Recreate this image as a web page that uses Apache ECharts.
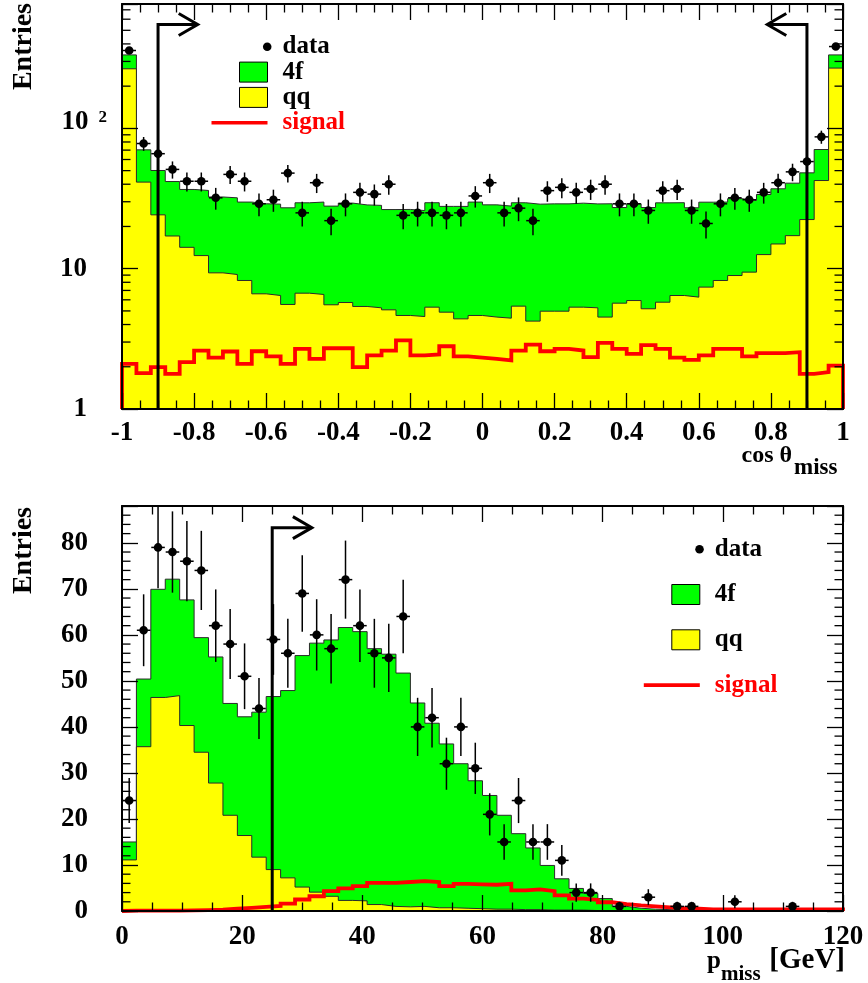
<!DOCTYPE html>
<html><head><meta charset="utf-8">
<script src="https://cdn.jsdelivr.net/npm/echarts@6/dist/echarts.min.js"></script>
<style>html,body{margin:0;padding:0;background:#fff}#c{width:868px;height:983px}</style>
</head><body><div id="c"></div>
<script>
// ===================== DATA =====================
// Top panel: cos(theta_miss), 50 bins from -1 to 1
const cosBinLow = -1;
const cosBinWidth = 0.04;
const cosQQ = [266, 41.4, 24.2, 17.1, 14.2, 12.4, 9.34, 9.09, 8.24, 6.62,
  6.44, 5.56, 6.69, 6.55, 5.53, 5.74, 5.38, 5.26, 5.09, 4.64,
  4.56, 5.32, 4.90, 4.39, 4.64, 4.52, 4.44, 5.41, 4.23, 4.98,
  4.98, 5.32, 5.26, 4.52, 5.68, 5.93, 5.18, 5.77, 6.44, 6.27,
  7.39, 8.24, 8.94, 9.45, 12.6, 15.0, 17.2, 22.4, 42.5, 269];
const cos4f = [68, 28.9, 25.9, 24.7, 22.5, 23.7, 23.1, 22.9, 21.6, 22.4,
  22.4, 21.6, 22.8, 23.3, 22.4, 23.6, 23.1, 23.0, 21.3, 21.8,
  21.4, 24.2, 22.9, 23.4, 25.2, 24.0, 23.5, 24.1, 24.6, 24.0,
  24.0, 24.0, 23.7, 24.5, 21.6, 23.1, 22.1, 23.7, 23.1, 20.9,
  22.4, 21.6, 22.6, 21.2, 21.2, 22.1, 23.5, 25.8, 28.2, 65];
const cosSignal = [2.10, 1.80, 1.99, 1.78, 2.16, 2.61, 2.32, 2.57, 2.10, 2.58,
  2.37, 2.10, 2.68, 2.28, 2.71, 2.71, 1.99, 2.41, 2.61, 3.08,
  2.41, 2.45, 2.80, 2.37, 2.32, 2.28, 2.22, 2.61, 2.88, 2.58,
  2.68, 2.61, 2.34, 2.96, 2.68, 2.47, 2.85, 2.68, 2.32, 2.24,
  2.41, 2.68, 2.68, 2.37, 2.50, 2.50, 2.54, 1.78, 1.83, 2.04];
const cosData = [359, 78, 66, 51, 42, 42, 32, 47, 42, 29,
  31, 48, 25, 41, 22, 29, 35, 34, 40, 24,
  25, 25, 24, 25, 33, 41, 25, 27, 22, 36,
  38, 35, 37, 40, 29, 29, 26, 36, 37, 26,
  21, 29, 32, 31, 35, 41, 49, 58, 87, 383];
const cosCuts = [-0.9, 0.9];
const cosArrowEnds = [-0.79, 0.79];
const cosArrowTop = 550;
const cosAxis = {min: -1, max: 1, step: 0.2, ymin: 1, ymax: 770};
const cosLogMinorTicks = [2,3,4,5,6,7,8,9,20,30,40,50,60,70,80,90,200,300,400,500,600,700];

// Bottom panel: p_miss [GeV], 50 bins of 2.4 GeV from 0 to 120
const pBinLow = 0;
const pBinWidth = 2.4;
const pQQ = [11.1, 35.7, 46.4, 46.8, 40.3, 34.5, 27.8, 20.8, 16.4, 11.7,
  9.0, 7.2, 5.2, 4.1, 3.2, 2.3, 2.2, 1.4, 1.0, 0.9,
  1.0, 0.7, 0.7, 0.6, 0.5, 0.4, 0.4, 0.3, 0.3, 0.2,
  0.2, 0.2, 0.1, 0.1, 0.1, 0.1, 0, 0, 0, 0,
  0, 0, 0, 0, 0, 0, 0, 0, 0, 0];
const p4f = [3.9, 14.7, 23.5, 25.3, 27.3, 24.9, 27.4, 24.3, 25.8, 31.5,
  37.6, 40.7, 50.3, 54.1, 55.7, 59.3, 58.5, 55.6, 54.8, 50.8,
  44.2, 40.1, 35.6, 31.4, 27.8, 24.7, 20.4, 16.5, 13.4, 9.7,
  6.8, 4.7, 3.7, 2.6, 0.9, 0.5, 0.4, 0.3, 0.2, 0.2,
  0.1, 0.1, 0.1, 0.1, 0.05, 0.05, 0.05, 0.05, 0.05, 0.05];
const pSignal = [0.1, 0.1, 0.1, 0.1, 0.15, 0.2, 0.3, 0.5, 0.7, 0.9,
  1.1, 1.6, 2.5, 3.2, 4.3, 4.9, 5.4, 6.1, 6.1, 6.3,
  6.5, 6.3, 5.4, 5.9, 5.8, 5.7, 5.9, 4.5, 4.7, 4.3,
  3.4, 2.7, 2.4, 1.9, 1.5, 1.2, 1.0, 0.8, 0.6, 0.5,
  0.35, 0.35, 0.35, 0.35, 0.35, 0.35, 0.35, 0.35, 0.35, 0.35];
const pData = [24, 61, 79, 78, 76, 74, 62, 58, 51, 44,
  59, 56, 69, 60, 57, 72, 62, 56, 55, 64,
  40, 42, 32, 40, 31, 21, 15, 24, 15, 15,
  11, 4, 4, 0, 1, 0, 3, 0, 1, 1,
  0, 0, 2, 0, 0, 0, 1, 0, 0, 0];
const pCut = 25;
const pArrowEnd = 31.6;
const pArrowTop = 83.3;
const pAxis = {min: 0, max: 120, step: 20, ymin: 0, ymax: 88, ystep: 10, yminorStep: 2};

const legendNames = ['data', '4f', 'qq', 'signal'];

// ===================== BUILD =====================
const FONT = 'Liberation Serif';
const GREEN = '#00ff00', YELLOW = '#ffff00', RED = '#ff0000', OUTLINE = '#2a2a2a';

function stepPoints(low, width, vals, base, closeEnds) {
  const pts = [];
  if (closeEnds) pts.push([low, base]);
  vals.forEach((v, i) => { pts.push([low + i * width, v]); pts.push([low + (i + 1) * width, v]); });
  if (closeEnds) pts.push([low + vals.length * width, base]);
  return pts;
}
function dataPoints(low, width, counts) {
  const out = [];
  counts.forEach((n, i) => { if (n > 0) out.push([low + (i + 0.5) * width, n, width * 0.47]); });
  return out;
}
function histSeries(name, xi, yi, pts, color, z) {
  return {name, type: 'line', xAxisIndex: xi, yAxisIndex: yi, data: pts, symbol: 'none', showSymbol: false,
    silent: true, z, lineStyle: {color: OUTLINE, width: 1, join: 'miter'},
    areaStyle: {color, opacity: 1, origin: 'start'}};
}
function signalSeries(xi, yi, pts) {
  return {name: 'signal', type: 'line', xAxisIndex: xi, yAxisIndex: yi, data: pts, symbol: 'none', showSymbol: false,
    silent: true, z: 5, lineStyle: {color: RED, width: 3.8, join: 'miter', cap: 'butt'}};
}
function dataSeries(xi, yi, pts, ymin) {
  return {name: 'data', type: 'custom', xAxisIndex: xi, yAxisIndex: yi, data: pts, z: 8, silent: true,
    itemStyle: {color: '#000'},
    renderItem: (params, api) => {
      const x = api.value(0), n = api.value(1), hw = api.value(2);
      const e = Math.sqrt(n);
      const c = api.coord([x, n]);
      const l = api.coord([x - hw, n]), r = api.coord([x + hw, n]);
      const u = api.coord([x, n + e]), d = api.coord([x, Math.max(n - e, ymin)]);
      const st = {stroke: '#000', lineWidth: 1.5};
      return {type: 'group', children: [
        {type: 'line', shape: {x1: l[0], y1: l[1], x2: r[0], y2: r[1]}, style: st},
        {type: 'line', shape: {x1: u[0], y1: u[1], x2: d[0], y2: d[1]}, style: st},
        {type: 'circle', shape: {cx: c[0], cy: c[1], r: 4.3}, style: {fill: '#000'}}
      ]};
    }};
}
function arrowSeries(xi, yi, items) {
  return {type: 'custom', xAxisIndex: xi, yAxisIndex: yi, data: items, z: 7, silent: true,
    renderItem: (params, api) => {
      const cut = api.value(0), base = api.value(1), top = api.value(2), end = api.value(3);
      const p0 = api.coord([cut, base]), p1 = api.coord([cut, top]), p2 = api.coord([end, top]);
      const s = end > cut ? 1 : -1;
      const st = {stroke: '#000', lineWidth: 3, fill: null, lineJoin: 'miter'};
      return {type: 'group', children: [
        {type: 'polyline', shape: {points: [p0, p1, p2]}, style: st},
        {type: 'polyline', shape: {points: [[p2[0] - s * 19, p2[1] - 11], p2, [p2[0] - s * 19, p2[1] + 11]]}, style: st}
      ]};
    }};
}
function minorTickSeries(xi, yi, xval, vals) {
  return {type: 'custom', xAxisIndex: xi, yAxisIndex: yi, data: vals.map(v => [xval, v]), z: 20, silent: true,
    renderItem: (params, api) => {
      const cs = params.coordSys;
      const y = api.coord([api.value(0), api.value(1)])[1];
      const st = {stroke: '#000', lineWidth: 1.3};
      return {type: 'group', children: [
        {type: 'line', shape: {x1: cs.x, y1: y, x2: cs.x + 8.5, y2: y}, style: st},
        {type: 'line', shape: {x1: cs.x + cs.width, y1: y, x2: cs.x + cs.width - 8.5, y2: y}, style: st}
      ]};
    }};
}

const labelFont = {fontSize: 27, fontWeight: 'bold', fontFamily: FONT, color: '#000'};
function xAxisDef(grid, ax, pos, showLabel, margin) {
  return {type: 'value', gridIndex: grid, min: ax.min, max: ax.max, interval: ax.step, position: pos, z: 10,
    axisLine: {show: true, onZero: false, lineStyle: {color: '#000', width: 2}},
    axisTick: {show: true, inside: true, length: 16, lineStyle: {color: '#000', width: 1.3}},
    minorTick: {show: true, splitNumber: 4, length: 8.5, lineStyle: {color: '#000', width: 1.3}},
    splitLine: {show: false}, minorSplitLine: {show: false},
    axisLabel: Object.assign({show: showLabel, margin, showMinLabel: true, showMaxLabel: true, hideOverlap: false}, labelFont)};
}
const yCommon = {
  axisLine: {show: true, onZero: false, lineStyle: {color: '#000', width: 2}},
  axisTick: {show: true, inside: true, length: 16, lineStyle: {color: '#000', width: 1.3}},
  minorTick: {show: false}, splitLine: {show: false}, z: 10
};
function logY(pos, showLabel) {
  return Object.assign({type: 'log', logBase: 10, gridIndex: 0, min: cosAxis.ymin, max: cosAxis.ymax, position: pos,
    axisLabel: Object.assign({show: showLabel, margin: 15, align: 'right', showMinLabel: true, showMaxLabel: true,
      formatter: v => {
        const l = Math.log10(v), r = Math.round(l);
        if (Math.abs(l - r) > 1e-6) return '';
        if (r === 0) return '{p|1}';
        if (r === 1) return '{p|10}';
        return '{b|10}{sup|' + r + '}';
      },
      rich: {
        p: Object.assign({padding: [0, 20, 0, 0]}, labelFont),
        b: Object.assign({padding: [0, 0, 12, 0]}, labelFont),
        sup: {fontSize: 17, fontWeight: 'bold', fontFamily: FONT, color: '#000', padding: [0, 0, 0, 10], verticalAlign: 'top'}
      }}, labelFont)}, yCommon);
}
function linY(pos, showLabel) {
  return Object.assign({type: 'value', gridIndex: 1, min: pAxis.ymin, max: pAxis.ymax, interval: pAxis.ystep, position: pos,
    axisLabel: Object.assign({show: showLabel, margin: 34, showMinLabel: true, showMaxLabel: true,
      formatter: v => (Math.abs(v % pAxis.ystep) < 1e-9 ? String(v) : '')}, labelFont)}, yCommon);
}

function legendItems() {
  return [
    {name: legendNames[0], icon: 'path://M0,0M60,20M51.7,10A4.3,4.3,0,1,1,60.3,10A4.3,4.3,0,1,1,51.7,10Z', itemStyle: {color: '#000', borderWidth: 0}},
    {name: legendNames[1], icon: 'path://M0,0M60,20M28,0L56,0L56,20L28,20Z', itemStyle: {color: GREEN, borderColor: '#000', borderWidth: 1}},
    {name: legendNames[2], icon: 'path://M0,0M60,20M28,0L56,0L56,20L28,20Z', itemStyle: {color: YELLOW, borderColor: '#000', borderWidth: 1}},
    {name: legendNames[3], icon: 'path://M0,0M60,20M0,8.2L56,8.2L56,11.8L0,11.8Z', itemStyle: {color: RED, borderWidth: 0}, textStyle: {color: RED}}
  ];
}
function legendDef(left, top, gap) {
  return {show: true, orient: 'vertical', left, top, padding: 0, itemGap: gap, itemWidth: 60, itemHeight: 20,
    selectedMode: false, data: legendItems(),
    textStyle: {fontSize: 25, fontWeight: 'bold', fontFamily: FONT, color: '#000', lineHeight: 20, padding: [0, 0, 0, 6]}};
}

const cosTotal = cosQQ.map((q, i) => q + cos4f[i]);
const pTotal = pQQ.map((q, i) => q + p4f[i]);
const pMinorTicks = [];
for (let v = pAxis.ymin + pAxis.yminorStep; v < pAxis.ymax + 1e-9; v += pAxis.yminorStep) {
  if (Math.abs(v % pAxis.ystep) > 1e-9) pMinorTicks.push(v);
}

function txt(x, y, text, size, align, vAlign, color, rotation) {
  return {type: 'text', x, y, rotation: rotation || 0, silent: true, z: 50,
    style: {text, fontSize: size, fontWeight: 'bold', fontFamily: FONT, fill: color || '#000',
      align, textAlign: align, verticalAlign: vAlign, textVerticalAlign: vAlign}};
}

const option = {
  animation: false,
  backgroundColor: '#fff',
  grid: [
    {left: 122, right: 25, top: 4, bottom: 574, outerBoundsMode: 'none', containLabel: false},
    {left: 122, right: 25, top: 506, bottom: 72, outerBoundsMode: 'none', containLabel: false}
  ],
  xAxis: [
    xAxisDef(0, cosAxis, 'bottom', true, 11),
    xAxisDef(0, cosAxis, 'top', false, 8),
    xAxisDef(1, pAxis, 'bottom', true, 13),
    xAxisDef(1, pAxis, 'top', false, 3)
  ],
  yAxis: [logY('left', true), logY('right', false), linY('left', true), linY('right', false)],
  legend: [legendDef(211, 34.3, 0.3), legendDef(643.3, 536.7, 20.3)],
  graphic: [
    txt(24, 3, 'Entries', 28, 'right', 'middle', '#000', Math.PI / 2),
    txt(24, 507, 'Entries', 28, 'right', 'middle', '#000', Math.PI / 2),
    txt(792, 456, 'cos θ', 24, 'right', 'middle'),
    txt(794, 468, 'miss', 23, 'left', 'middle'),
    txt(707, 962, 'p', 25, 'left', 'middle'),
    txt(721, 975, 'miss', 21, 'left', 'middle'),
    txt(845, 961, '[GeV]', 29, 'right', 'middle')
  ],
  series: [
    histSeries('4f', 0, 0, stepPoints(cosBinLow, cosBinWidth, cosTotal, cosAxis.ymin, false), GREEN, 2),
    histSeries('qq', 0, 0, stepPoints(cosBinLow, cosBinWidth, cosQQ, cosAxis.ymin, false), YELLOW, 3),
    signalSeries(0, 0, stepPoints(cosBinLow, cosBinWidth, cosSignal, cosAxis.ymin, true)),
    arrowSeries(0, 0, cosCuts.map((c, i) => [c, cosAxis.ymin, cosArrowTop, cosArrowEnds[i]])),
    dataSeries(0, 0, dataPoints(cosBinLow, cosBinWidth, cosData), cosAxis.ymin),
    minorTickSeries(0, 0, cosAxis.min, cosLogMinorTicks),

    histSeries('4f', 2, 2, stepPoints(pBinLow, pBinWidth, pTotal, pAxis.ymin, false), GREEN, 2),
    histSeries('qq', 2, 2, stepPoints(pBinLow, pBinWidth, pQQ, pAxis.ymin, false), YELLOW, 3),
    signalSeries(2, 2, stepPoints(pBinLow, pBinWidth, pSignal, pAxis.ymin, true)),
    arrowSeries(2, 2, [[pCut, pAxis.ymin, pArrowTop, pArrowEnd]]),
    dataSeries(2, 2, dataPoints(pBinLow, pBinWidth, pData), pAxis.ymin),
    minorTickSeries(2, 2, pAxis.min, pMinorTicks)
  ]
};

const chart = echarts.init(document.getElementById('c'), null, {renderer: 'canvas', width: 868, height: 983});
chart.setOption(option);
</script>
</body></html>
